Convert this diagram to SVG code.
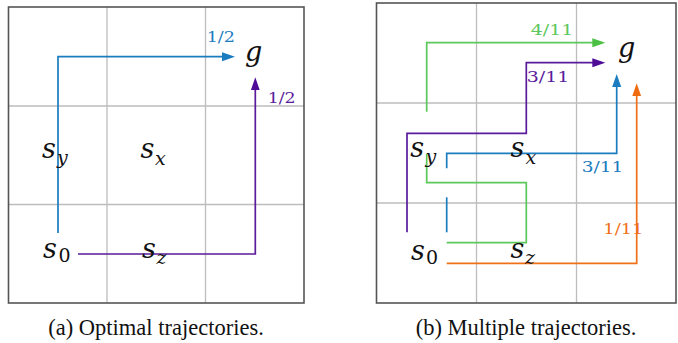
<svg xmlns="http://www.w3.org/2000/svg" width="678" height="343" viewBox="0 0 678 343">
<style>
.grid{stroke:#bdbdbd;stroke-width:1.3;fill:none}
.frame{stroke:#555;stroke-width:1.6;fill:none}
.p{fill:none;stroke-width:1.7;stroke-linejoin:miter}
.m{font-family:"DejaVu Serif","Liberation Serif",serif;font-style:italic;font-size:27px;fill:#111}
.sub{font-family:"DejaVu Serif","Liberation Serif",serif;font-style:italic;font-size:19px;fill:#111}
.subr{font-family:"DejaVu Serif","Liberation Serif",serif;font-size:19px;fill:#111}
.lab{font-family:"DejaVu Serif","Liberation Serif",serif;font-size:15px}
.cap{font-family:"Liberation Serif","Times New Roman",serif;font-size:22.5px;fill:#111}
.blue{stroke:#1b7cc0}.purple{stroke:#5a1a9c}.green{stroke:#5cc85c}.orange{stroke:#f07018}
</style>
<defs>
<marker id="ab" markerUnits="userSpaceOnUse" markerWidth="14" markerHeight="10" refX="9" refY="4.5" orient="auto"><path d="M0,0 L13,4.5 L0,9 z" fill="#1b7cc0"/></marker>
<marker id="ap" markerUnits="userSpaceOnUse" markerWidth="14" markerHeight="10" refX="9" refY="4.5" orient="auto"><path d="M0,0 L13,4.5 L0,9 z" fill="#4f0c96"/></marker>
<marker id="ag" markerUnits="userSpaceOnUse" markerWidth="14" markerHeight="10" refX="9" refY="4.5" orient="auto"><path d="M0,0 L13,4.5 L0,9 z" fill="#4cc043"/></marker>
<marker id="ao" markerUnits="userSpaceOnUse" markerWidth="14" markerHeight="10" refX="9" refY="4.5" orient="auto"><path d="M0,0 L13,4.5 L0,9 z" fill="#f06a10"/></marker>
</defs>

<g id="panel-a-grid">
<path class="grid" d="M107,7 V303 M205.5,7 V303 M8.5,106 H304 M8.5,204.5 H304"/>
<rect class="frame" x="8.5" y="7" width="295.5" height="296"/>
</g>
<g id="panel-b-grid">
<path class="grid" d="M476.5,3 V303 M576.5,3 V303 M376.5,103 H676 M376.5,203 H676"/>
<rect class="frame" x="376.5" y="3" width="299.5" height="300"/>
</g>

<g id="connectors">
<path class="p blue" d="M58,233 V56.7 H231" marker-end="url(#ab)"/>
<path class="p purple" d="M78,254 H255.3 V81.3" marker-end="url(#ap)"/>
<path class="p green" d="M426.7,111.7 V42.7 H601.3" marker-end="url(#ag)"/>
<path class="p purple" d="M407,232.3 V133.3 H526.3 V62.7 H601.3" marker-end="url(#ap)"/>
<path class="p blue" d="M446.7,232.3 V197.3"/>
<path class="p blue" d="M446.7,168.3 V153.3 H616.7 V78" marker-end="url(#ab)"/>
<path class="p green" d="M426.7,154 V182.7 H526.3 V242.7 H446.7"/>
<path class="p orange" d="M446.7,263.3 H636.7 V87.3" marker-end="url(#ao)"/>
</g>

<g id="labels">
<text class="lab" x="206.7" y="41.7" textLength="28.3" lengthAdjust="spacingAndGlyphs" fill="#1b7cc0">1/2</text>
<text class="lab" x="267.7" y="102.5" textLength="28" lengthAdjust="spacingAndGlyphs" fill="#5a1a9c">1/2</text>
<text class="lab" x="530.7" y="35" textLength="42.6" lengthAdjust="spacingAndGlyphs" fill="#5cc85c">4/11</text>
<text class="lab" x="526.7" y="81.5" textLength="42.6" lengthAdjust="spacingAndGlyphs" fill="#5a1a9c">3/11</text>
<text class="lab" x="581.7" y="171.5" textLength="41.6" lengthAdjust="spacingAndGlyphs" fill="#1b7cc0">3/11</text>
<text class="lab" x="603.3" y="234" textLength="40" lengthAdjust="spacingAndGlyphs" fill="#f07018">1/11</text>
</g>

<g id="a-g"><text class="m" x="245" y="61">g</text></g>
<g id="a-sy"><text class="m" x="42" y="158">s</text><text class="sub" x="57" y="164">y</text></g>
<g id="a-sx"><text class="m" x="140.5" y="158">s</text><text class="sub" x="155" y="165">x</text></g>
<g id="a-s0"><text class="m" x="43" y="258">s</text><text class="subr" x="58.5" y="262">0</text></g>
<g id="a-sz"><text class="m" x="142" y="258">s</text><text class="sub" x="156.5" y="264">z</text></g>

<g id="b-g"><text class="m" x="618" y="57">g</text></g>
<g id="b-sy"><text class="m" x="410.3" y="157">s</text><text class="sub" x="425.5" y="163">y</text></g>
<g id="b-sx"><text class="m" x="510.5" y="157">s</text><text class="sub" x="525.5" y="164">x</text></g>
<g id="b-s0"><text class="m" x="411" y="260">s</text><text class="subr" x="426" y="264">0</text></g>
<g id="b-sz"><text class="m" x="510.5" y="258">s</text><text class="sub" x="525" y="264">z</text></g>

<g id="captions">
<text class="cap" x="156" y="335" text-anchor="middle">(a) Optimal trajectories.</text>
<text class="cap" x="526" y="335" text-anchor="middle">(b) Multiple trajectories.</text>
</g>
</svg>
